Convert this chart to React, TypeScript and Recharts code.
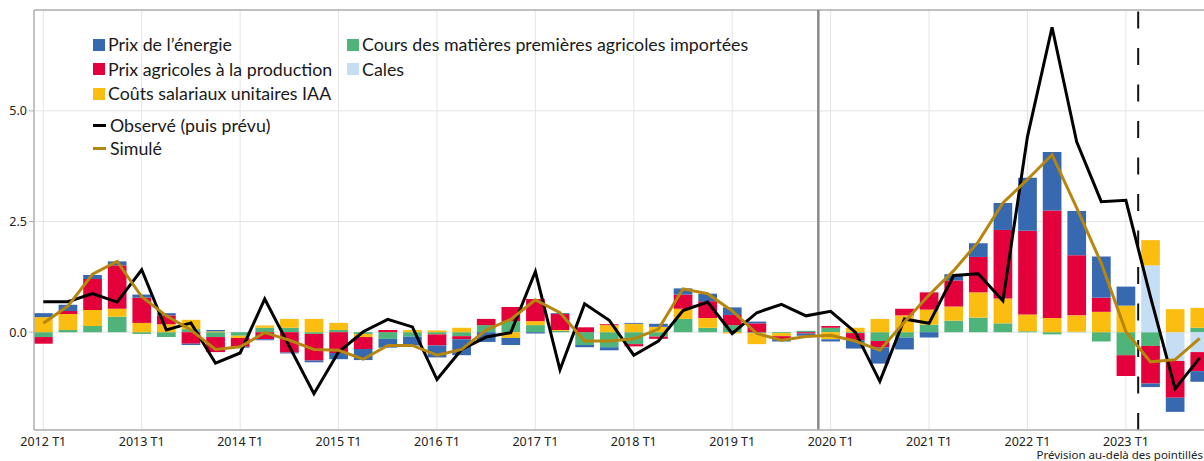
import React from 'react';
import {
  ComposedChart,
  Bar,
  Line,
  XAxis,
  YAxis,
  CartesianGrid,
  ReferenceLine,
} from 'recharts';

const years = [2012, 2013, 2014, 2015, 2016, 2017, 2018, 2019, 2020, 2021, 2022, 2023];
const quarters = years.flatMap((y) => ['T1', 'T2', 'T3', 'T4'].map((q) => `${y} ${q}`));
const xTicks = [0, 4, 8, 12, 16, 20, 24, 28, 32, 36, 40, 44];
const yTicks = [0, 2.5, 5];

// contributions (points de %)
const energie = [
  0.09, 0.14, 0.09, 0.09, 0.07, 0.05, -0.03, 0.03, -0.02, -0.02, -0.02, -0.04,
  -0.14, -0.25, -0.2, -0.2, -0.27, -0.36, -0.22, -0.16, -0.03, 0.02, -0.05, -0.07,
  0.02, 0.07, 0.14, 0.17, 0.17, 0.04, -0.05, -0.05, -0.05, -0.19, -0.37, -0.27,
  -0.12, 0.14, 0.31, 0.61, 1.2, 1.32, 1.0, 0.93, 0.43, -0.08, -0.32, -0.24,
];
const agricoles = [
  -0.15, 0.07, 0.7, 0.98, 0.57, 0.2, -0.26, -0.34, -0.2, -0.16, -0.46, -0.6,
  -0.47, -0.27, 0.05, 0, -0.25, -0.07, 0.14, 0.32, 0.5, 0.36, 0.11, 0.02,
  -0.05, -0.05, 0.32, 0.38, 0.23, 0.2, -0.07, -0.03, 0.04, -0.16, -0.14, 0.15,
  0.39, 0.59, 0.8, 1.55, 1.89, 2.43, 1.36, 0.32, -0.47, -0.85, -0.83, -0.43,
];
const salaires = [
  0.34, 0.36, 0.36, 0.18, 0.21, 0.18, 0.21, 0.02, -0.05, 0.05, 0.2, 0.3,
  0.16, -0.07, 0, 0.05, 0.04, 0.1, 0, -0.13, 0.09, 0.02, 0, 0.16,
  0.19, 0.12, 0.23, 0.22, -0.03, -0.25, -0.07, 0, -0.16, 0.1, 0.3, 0.38,
  0.34, 0.32, 0.57, 0.56, 0.38, 0.32, 0.37, 0.46, 0.6, 0.57, 0.52, 0.45,
];
const matieres = [
  -0.11, 0.05, 0.14, 0.35, -0.04, -0.11, 0.07, -0.11, -0.08, 0.1, 0.1, -0.04,
  0.05, -0.04, -0.15, -0.1, -0.05, -0.09, 0.16, 0.25, 0.16, 0.03, -0.29, -0.34,
  -0.27, -0.1, 0.3, 0.1, 0.16, -0.02, -0.02, 0.03, 0.1, -0.02, -0.2, -0.12,
  0.17, 0.26, 0.33, 0.2, 0.02, -0.05, 0.01, -0.21, -0.52, -0.31, 0, 0.1,
];
const cales = [
  0, 0, 0, 0, 0, 0, 0, 0, 0, 0, 0, 0,
  0, 0, 0, 0, 0, 0, 0, 0, 0, 0, 0, 0,
  0, 0, 0, 0, 0, 0, 0, 0, 0, 0, 0, 0,
  0, 0, 0, 0, 0, 0, 0, 0, 0, 1.51, -0.65, -0.45,
];
const observe = [
  0.69, 0.69, 0.87, 0.68, 1.41, 0.05, 0.21, -0.7, -0.47, 0.75, -0.32, -1.39,
  -0.45, 0.01, 0.29, 0.12, -1.07, -0.39, -0.11, -0.01, 1.37, -0.85, 0.64, 0.27,
  -0.52, -0.2, 0.49, 0.68, -0.03, 0.44, 0.63, 0.37, 0.47, 0.0, -1.11, 0.3,
  0.2, 1.28, 1.32, 0.71, 4.42, 6.89, 4.3, 2.95, 2.98, 0.8, -1.28, -0.58,
];
const simule = [
  0.2, 0.59, 1.31, 1.6, 0.8, 0.37, 0.05, -0.39, -0.33, -0.01, -0.18, -0.39,
  -0.41, -0.61, -0.3, -0.3, -0.52, -0.39, 0.05, 0.29, 0.73, 0.44, -0.2, -0.2,
  -0.15, 0.07, 0.98, 0.87, 0.48, -0.03, -0.18, -0.1, -0.07, -0.2, -0.41, 0.23,
  0.84, 1.39, 2.04, 2.92, 3.45, 4.01, 2.81, 1.56, 0.01, -0.67, -0.62, -0.14,
];

const data = quarters.map((label, i) => ({
  i,
  label,
  energie: energie[i],
  agricoles: agricoles[i],
  salaires: salaires[i],
  matieres: matieres[i],
  cales: cales[i],
  observe: observe[i],
  simule: simule[i],
}));

const COLORS = {
  energie: '#3769B0',
  agricoles: '#E3003B',
  salaires: '#FBBE10',
  matieres: '#4FB47A',
  cales: '#C6DEF3',
  observe: '#000000',
  simule: '#B5870F',
};

const Y_MIN = -2.21;
const Y_MAX = 7.28;
const X_MIN = -0.378;
const X_MAX = 47.5;

const legendFont = 'Lato, "Open Sans", sans-serif';
const tickStyle = { fontSize: 12.5, fill: '#222', fontFamily: '"Noto Sans", sans-serif' };

const Swatch = ({ color, label }: { color: string; label: string }) => (
  <div style={{ display: 'flex', alignItems: 'center', height: 24.3 }}>
    <span style={{ width: 12, height: 12, background: color, marginRight: 3, flexShrink: 0 }} />
    <span>{label}</span>
  </div>
);

const LineKey = ({ color, label }: { color: string; label: string }) => (
  <div style={{ display: 'flex', alignItems: 'center', height: 23.3 }}>
    <span style={{ width: 13, height: 3, background: color, marginRight: 4, flexShrink: 0 }} />
    <span>{label}</span>
  </div>
);

export default function App() {
  return (
    <div
      style={{
        position: 'fixed',
        left: 0,
        top: 0,
        width: 1204,
        height: 461,
        overflow: 'hidden',
        background: '#fff',
      }}
    >
      <ComposedChart
        width={1220}
        height={461}
        data={data}
        stackOffset="sign"
        margin={{ top: 10, right: 8, left: 0, bottom: 0 }}
      >
        <CartesianGrid stroke="#e4e4e4" strokeWidth={1} />
        <XAxis
          dataKey="i"
          type="number"
          domain={[X_MIN, X_MAX]}
          ticks={xTicks}
          allowDataOverflow
          tickFormatter={(v: number) => quarters[v]}
          tickLine={false}
          axisLine={{ stroke: '#b0b0b0', strokeWidth: 1.5 }}
          tick={tickStyle}
          tickMargin={1}
          height={31}
        />
        <YAxis
          type="number"
          domain={[Y_MIN, Y_MAX]}
          ticks={yTicks}
          allowDataOverflow
          tickFormatter={(v: number) => v.toFixed(1)}
          width={34}
          tickSize={5}
          tickLine={{ stroke: '#b0b0b0' }}
          axisLine={{ stroke: '#b0b0b0', strokeWidth: 1.5 }}
          tick={tickStyle}
        />
        <ReferenceLine y={Y_MAX} stroke="#b0b0b0" strokeWidth={1.5} ifOverflow="visible" />
        <Bar dataKey="matieres" stackId="a" fill={COLORS.matieres} barSize={18.7} isAnimationActive={false} />
        <Bar dataKey="cales" stackId="a" fill={COLORS.cales} barSize={18.7} isAnimationActive={false} />
        <Bar dataKey="salaires" stackId="a" fill={COLORS.salaires} barSize={18.7} isAnimationActive={false} />
        <Bar dataKey="agricoles" stackId="a" fill={COLORS.agricoles} barSize={18.7} isAnimationActive={false} />
        <Bar dataKey="energie" stackId="a" fill={COLORS.energie} barSize={18.7} isAnimationActive={false} />
        <ReferenceLine x={31.5} stroke="#8a8a8a" strokeWidth={2.5} />
        <ReferenceLine x={44.5} stroke="#111" strokeWidth={2} strokeDasharray="17 19.5" />
        <Line
          type="linear"
          dataKey="observe"
          stroke={COLORS.observe}
          strokeWidth={3}
          dot={false}
          isAnimationActive={false}
        />
        <Line
          type="linear"
          dataKey="simule"
          stroke={COLORS.simule}
          strokeWidth={3}
          dot={false}
          isAnimationActive={false}
        />
      </ComposedChart>

      <div
        style={{
          position: 'absolute',
          left: 93,
          top: 33,
          fontFamily: legendFont,
          fontSize: 17.8,
          color: '#1a1a1a',
          lineHeight: 1,
          whiteSpace: 'nowrap',
        }}
      >
        <Swatch color={COLORS.energie} label="Prix de l’énergie" />
        <Swatch color={COLORS.agricoles} label="Prix agricoles à la production" />
        <Swatch color={COLORS.salaires} label="Coûts salariaux unitaires IAA" />
        <div style={{ height: 8 }} />
        <LineKey color={COLORS.observe} label="Observé (puis prévu)" />
        <LineKey color={COLORS.simule} label="Simulé" />
      </div>
      <div
        style={{
          position: 'absolute',
          left: 347,
          top: 33,
          fontFamily: legendFont,
          fontSize: 17.8,
          color: '#1a1a1a',
          lineHeight: 1,
          whiteSpace: 'nowrap',
        }}
      >
        <Swatch color={COLORS.matieres} label="Cours des matières premières agricoles importées" />
        <Swatch color={COLORS.cales} label="Cales" />
      </div>
      <div
        style={{
          position: 'absolute',
          right: 1,
          top: 449,
          fontFamily: '"Noto Sans", sans-serif',
          fontSize: 11.5,
          lineHeight: 1,
          color: '#222',
          whiteSpace: 'nowrap',
        }}
      >
        Prévision au-delà des pointillés
      </div>
    </div>
  );
}
